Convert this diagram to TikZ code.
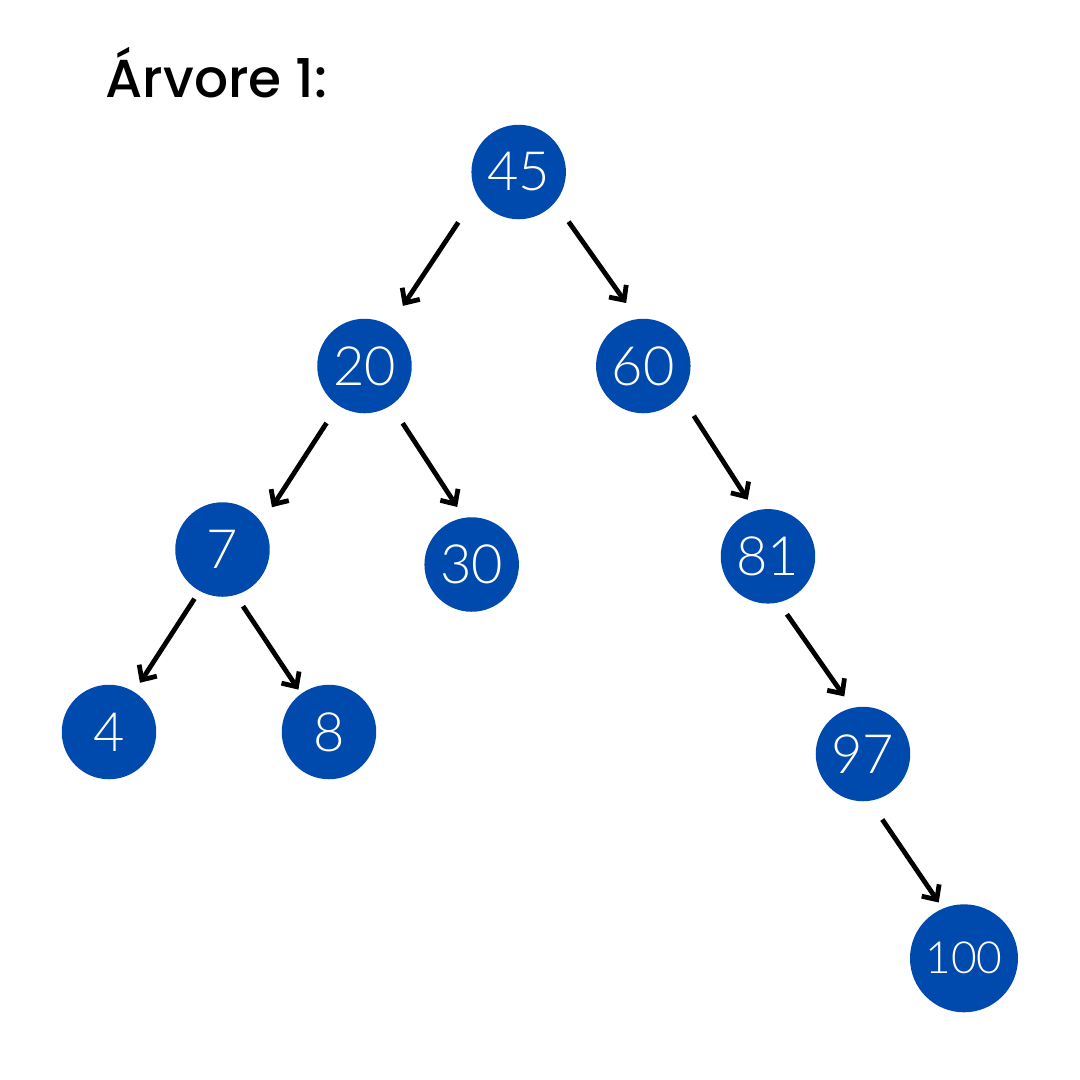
\documentclass[tikz,border=0pt]{standalone}
\usepackage{fontspec}
\usetikzlibrary{arrows.meta}
\newfontfamily\titlefont{Poppins}[UprightFont=* Medium]
\newfontfamily\keyfont{Lato}[UprightFont=* Light]
\definecolor{keyblue}{HTML}{004AAD}

\begin{document}
\begin{tikzpicture}[
  x=0.1mm, y=-0.1mm,
  vert/.style={circle,fill=keyblue,text=white,inner sep=0pt,outer sep=0pt,
    minimum size=9.45mm,font=\keyfont\fontsize{15.4}{16}\selectfont},
  arr/.style={-{Straight Barb[length=3.2pt,width=6pt]},line width=0.48mm}
]
  \useasboundingbox[fill=white] (0,0) rectangle (1080,1080);

  \node[anchor=base west,inner sep=0pt,font=\titlefont\fontsize{15.2}{16}\selectfont] (title) at (105,97) {Árvore 1:};

  \node[vert] (n45) at (518.7,172) {45};
  \node[vert] (n20) at (364.5,366) {20};
  \node[vert] (n60) at (643.3,366) {60};
  \node[vert] (n7)  at (222.5,549.5) {7};
  \node[vert] (n30) at (471.7,564.5) {30};
  \node[vert] (n81) at (768,556.3) {81};
  \node[vert] (n4)  at (109,732) {4};
  \node[vert] (n8)  at (329,732) {8};
  \node[vert] (n97) at (863,754) {97};
  \node[vert,minimum size=10.8mm,font=\keyfont\fontsize{12.6}{14}\selectfont] (n100) at (964,958.3) {100};

  \draw[arr,shorten <=3.38mm,shorten >=2.41mm] (n45.-152.8) -- (n20.58);
  \draw[arr,shorten <=2.37mm,shorten >=1.97mm] (n45.-40.1) -- (n60.97.7);
  \draw[arr,shorten <=2.12mm,shorten >=1.89mm] (n20.-124) -- (n7.34.1);
  \draw[arr,shorten <=2.15mm,shorten >=1.30mm] (n20.-56.7) -- (n30.99.7);
  \draw[arr,shorten <=2.46mm,shorten >=1.34mm] (n60.-38.6) -- (n81.106.6);
  \draw[arr,shorten <=0.94mm,shorten >=1.09mm] (n7.-119.4) -- (n4.58.8);
  \draw[arr,shorten <=1.35mm,shorten >=0.50mm] (n7.-74.3) -- (n8.126.5);
  \draw[arr,shorten <=1.45mm,shorten >=1.41mm] (n81.-77.1) -- (n97.103.5);
  \draw[arr,shorten <=2.26mm,shorten >=0.74mm] (n97.-82.2) -- (n100.113.6);
\end{tikzpicture}
\end{document}
